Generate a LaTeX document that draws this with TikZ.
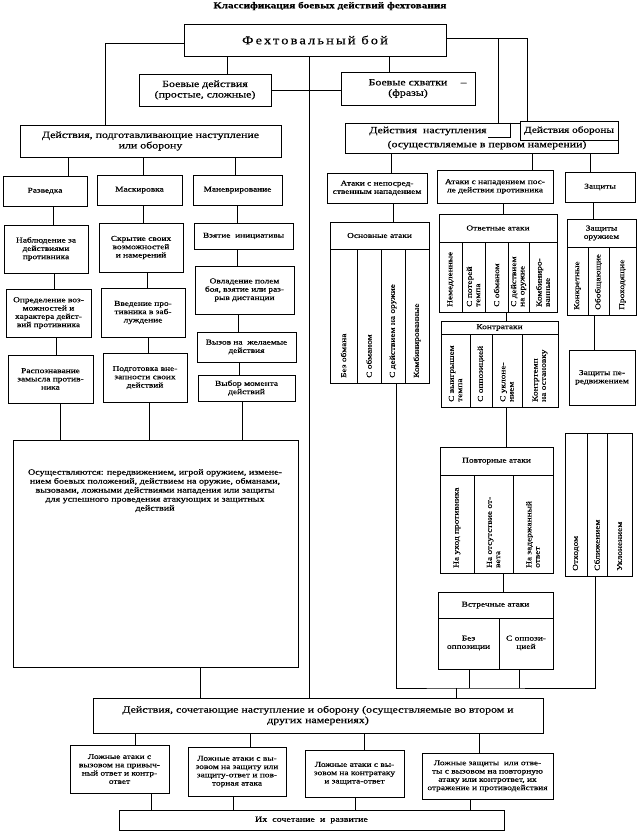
\documentclass[tikz,border=0pt]{standalone}
\usepackage{fontspec}
\usepackage{tikz}
\setmainfont[FakeStretch=1.25,FakeBold=0.4]{Liberation Serif}
\newfontfamily\spacedfont[FakeStretch=1.2,FakeBold=0.4,LetterSpace=18]{Liberation Serif}
\newcommand{\smallf}{\fontsize{7.5}{8.3}\selectfont}
\newcommand{\midf}{\fontsize{8}{9}\selectfont}
\newcommand{\largef}{\fontsize{9.5}{10.5}\selectfont}
\tikzset{
  box/.style={draw, line width=0.7pt, inner sep=0pt, align=center, font=\smallf},
  bigbox/.style={box, font=\largef},
  ln/.style={line width=0.7pt},
  hdr/.style={inner sep=0pt, align=center, font=\smallf},
  coltxt/.style={rotate=90, anchor=west, inner sep=0pt, align=left, font=\smallf}
}

\begin{document}
\begin{tikzpicture}[x=1pt, y=-1pt]
  % page = 642 x 835 px, one px per pt
  \fill[white] (0,0) rectangle (642,835);
  \useasboundingbox (0,0) rectangle (642,835);

  % Top
  \node[font=\bfseries\fontsize{9}{10}\selectfont, inner sep=0pt] (title) at (330,6)
    {Классификация боевых действий фехтования};
  \node[box, font=\spacedfont\fontsize{12}{13}\selectfont, minimum width=262, minimum height=32]
    (main) at (315,40) {Фехтовальный бой};
  \node[bigbox, minimum width=132, minimum height=32] (bd) at (205,90)
    {Боевые действия\\(простые, сложные)};
  \node[bigbox, minimum width=134, minimum height=33] (bs) at (408,88.5)
    {Боевые схватки\rlap{\hspace{1.4em}–}\\(фразы)};
  \node[bigbox, minimum width=261, minimum height=32] (podg) at (150.5,141)
    {Действия, подготавливающие наступление\\или оборону};
  \node[box, minimum width=273, minimum height=30] (nast) at (481.5,138) {};
  \node[font=\largef, inner sep=0pt] (nast-t) at (428,131) {Действия\ \ наступления};
  \node[font=\largef, inner sep=0pt] (nast-b) at (487,145) {(осуществляемые в первом намерении)};
  \node[box, font=\fontsize{9}{10}\selectfont, fill=white, minimum width=98, minimum height=19]
    (obor) at (569,130.5) {Действия обороны};
  \draw[ln] ([xshift=28.5]nast.north) -- ++(0,15) -- ++(-22,0);

  % Preparing actions (left)
  \node[box, minimum width=84, minimum height=30] (razv) at (45,191) {Разведка};
  \node[box, minimum width=85, minimum height=30] (mask) at (139.5,190) {Маскировка};
  \node[box, minimum width=89, minimum height=30] (manv) at (237.5,190) {Маневрирование};
  \node[box, minimum width=84, minimum height=48] (nabl) at (46,249)
    {Наблюдение за\\действиями\\противника};
  \node[box, minimum width=84, minimum height=49] (skr) at (141,247.5)
    {Скрытие своих\\возможностей\\и намерений};
  \node[box, minimum width=99, minimum height=26] (vzy) at (243.5,236) {Взятие\ \ инициативы};
  \node[box, minimum width=85, minimum height=48] (opr) at (48.5,313)
    {Определение воз-\\можностей и\\характера дейст-\\вий противника};
  \node[box, minimum width=84, minimum height=49] (vved) at (143,312.5)
    {Введение про-\\тивника в заб-\\луждение};
  \node[box, minimum width=99, minimum height=48] (ovl) at (244.5,290)
    {Овладение полем\\боя, взятие или раз-\\рыв дистанции};
  \node[box, minimum width=99, minimum height=30] (vyz) at (246.5,347)
    {Вызов на\ \ желаемые\\действия};
  \node[box, minimum width=97, minimum height=26] (vyb) at (246.5,388)
    {Выбор момента\\действий};
  \node[box, minimum width=85, minimum height=48] (rasp) at (50.5,379)
    {Распознавание\\замысла против-\\ника};
  \node[box, minimum width=84, minimum height=49] (podgv) at (145,377.5)
    {Подготовка вне-\\запности своих\\действий};
  \node[box, minimum width=285, minimum height=227] (osush) at (155.5,553.5) {};
  \node[font=\midf, align=center, inner sep=0pt, anchor=north] (osush-t) at (155,469)
    {Осуществляются: передвижением, игрой оружием, измене-\\нием боевых положений, действием на оружие, обманами,\\вызовами, ложными действиями нападения или защиты\\для успешного проведения атакующих и защитных\\действий};

  % Attack / defence (right)
  \node[box, minimum width=100, minimum height=30] (anep) at (377,188)
    {Атаки с непосред-\\ственным нападением};
  \node[box, minimum width=116, minimum height=33] (apos) at (495,186.5)
    {Атаки с нападением пос-\\ле действия противника};
  \node[box, minimum width=70, minimum height=30] (zash) at (600,187) {Защиты};
  \node[box, minimum width=99, minimum height=161] (osn) at (379.5,302.5) {};
  \node[hdr] (osn-h) at (379.5,235.5) {Основные атаки};
  \node[box, minimum width=118, minimum height=98] (otv) at (498,263) {};
  \node[hdr] (otv-h) at (498,228) {Ответные атаки};
  \node[box, minimum width=117, minimum height=86] (kontr) at (499.5,364) {};
  \node[hdr] (kontr-h) at (499.5,327.5) {Контратаки};
  \node[box, minimum width=113, minimum height=126] (povt) at (496.5,510) {};
  \node[hdr] (povt-h) at (496.5,461) {Повторные атаки};
  \node[box, minimum width=115, minimum height=77] (vstr) at (495.5,630.5) {};
  \node[hdr] (vstr-h) at (495.5,605) {Встречные атаки};
  \node[hdr] (vstr-1) at (468.5,643) {Без\\оппозиции};
  \node[hdr] (vstr-2) at (526,643) {С оппози-\\цией};
  \node[box, minimum width=69, minimum height=96] (zoru) at (601.5,267) {};
  \node[hdr] (zoru-h) at (601.5,233) {Защиты\\оружием};
  \node[box, minimum width=66, minimum height=55] (zper) at (602,377.5)
    {Защиты пе-\\редвижением};
  \node[box, minimum width=67, minimum height=143] (otx) at (598.5,504.5) {};

  % header rules
  \foreach \xa/\xb/\yy in {330/429/249, 439/557/242, 441/558/334,
                           440/553/475, 438/553/618, 567/636/247}
    \draw[ln] (\xa,\yy) -- (\xb,\yy);
  % column rules
  \foreach \xx/\ya/\yb in {357/249/383, 381/249/383, 405/249/383,
                           462/242/312, 485/242/312, 508/242/312, 529/242/312,
                           470/334/407, 492/334/407, 522/334/407,
                           474/475/573, 513/475/573,
                           588/247/315, 609/247/315,
                           587/433/576, 607/433/576,
                           499/618/669}
    \draw[ln] (\xx,\ya) -- (\xx,\yb);

  % column texts, read bottom to top
  \foreach \xx/\t [count=\i] in {343.5/Без обмана, 369/С обманом,
                                 393/С действием на оружие, 417/Комбинированные}
    \node[coltxt] (osn-\i) at (\xx,378) {\t};
  \foreach \xx/\t [count=\i] in {450.5/Немедленные, 473.5/С потерей\\темпа, 496.5/С обманом,
                                 518.5/С действием\\на оружие, 543/Комбиниро-\\ванные}
    \node[coltxt] (otv-\i) at (\xx,307) {\t};
  \foreach \xx/\t [count=\i] in {455.5/С выигрышем\\темпа, 481/С оппозицией,
                                 507/С уклоне-\\нием, 540/Контртемп\\на остановку}
    \node[coltxt] (kontr-\i) at (\xx,402) {\t};
  \foreach \xx/\t [count=\i] in {577.5/Конкретные, 598.5/Обобщающие, 622.5/Проходящие}
    \node[coltxt] (zoru-\i) at (\xx,310) {\t};
  \foreach \xx/\t [count=\i] in {457/На уход противника, 493.5/На отсутствие от-\\вета,
                                 533/На задержанный\\ответ}
    \node[coltxt] (povt-\i) at (\xx,568) {\t};
  \foreach \xx/\t [count=\i] in {576/Отходом, 597/Сближением, 619.5/Уклонением}
    \node[coltxt] (otx-\i) at (\xx,571) {\t};

  % Combined actions (bottom)
  \node[bigbox, minimum width=450, minimum height=35] (soch) at (318,715.5)
    {Действия, сочетающие наступление и оборону (осуществляемые во втором и\\других намерениях)};
  \node[box, minimum width=99, minimum height=48] (l1) at (119.5,769)
    {Ложные атаки с\\вызовом на привыч-\\ный ответ и контр-\\ответ};
  \node[box, minimum width=98, minimum height=49] (l2) at (237,771.5)
    {Ложные атаки с вы-\\зовом на защиту или\\защиту-ответ и пов-\\торная атака};
  \node[box, minimum width=99, minimum height=47] (l3) at (354.5,773.5)
    {Ложные атаки с вы-\\зовом на контратаку\\и защита-ответ};
  \node[box, minimum width=131, minimum height=46] (l4) at (487.5,776)
    {Ложные защиты\ \ или отве-\\ты с вызовом на повторную\\атаку или контрответ, их\\отражение и противодействия};
  \node[box, font=\midf, minimum width=385, minimum height=20] (ih) at (311.5,820)
    {Их\ \ сочетание\ \ и\ \ развитие};

  % Connectors
  \coordinate (lj) at ([yshift=-3]main.west);
  \coordinate (rj) at ([yshift=2]main.east);
  \coordinate (coll) at (456,688);
  \draw[ln] (lj) -| ([xshift=-45.5]podg.north);
  \draw[ln] (rj) -| ([xshift=-42]obor.north);
  \draw[ln] ([xshift=16.5]nast.north) -- ([xshift=16.5]nast.north |- rj);
  \draw[ln] (bd.east) -- (bd.east -| bs.west);
  \foreach \u/\l/\dx in {
    main/bd/22, main/bs/-19, main/soch/-9,
    podg/razv/23, podg/mask/3.5, podg/manv/-2.5,
    razv/nabl/7, mask/skr/2, manv/vzy/-6.5,
    nabl/opr/5.5, skr/vved/4, vzy/ovl/-7.5,
    opr/rasp/5.5, vved/podgv/3, ovl/vyz/-8.5, vyz/vyb/-7.5,
    rasp/osush/-95.5, podgv/osush/-6.5, vyb/osush/86.5,
    nast/anep/14, nast/apos/37, nast/zash/-10,
    anep/osn/13.5, apos/otv/5, otv/kontr/6.5, kontr/povt/9.5, povt/vstr/7.5,
    zash/zoru/-8.5, zoru/zper/-8,
    osush/soch/-118,
    soch/l1/15.5, soch/l2/13, soch/l3/9.5, soch/l4/-8.5
  }
    \draw[ln] ([xshift=\dx]\l.north) -- ([xshift=\dx]\l.north |- \u.south);
  \foreach \u/\dx in {l1/31.5, l2/-4, l3/0.5, l4/-17.5}
    \draw[ln] ([xshift=\dx]\u.south) -- ([xshift=\dx]\u.south |- ih.north);
  % right-hand collector
  \draw[ln] ([xshift=16.5]osn.south) |- (coll) -| ([xshift=-3.5]otx.south);
  \draw[ln] (coll) -- (coll |- soch.north);
  \foreach \dx in {-26.5, 23.5}
    \draw[ln] ([xshift=\dx]vstr.south) -- ([xshift=\dx]vstr.south |- coll);
\end{tikzpicture}
\end{document}
